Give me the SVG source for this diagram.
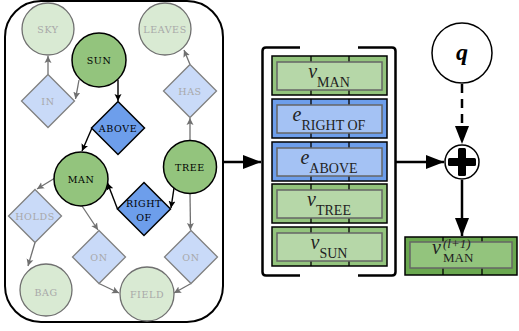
<svg xmlns="http://www.w3.org/2000/svg" width="519" height="331" viewBox="0 0 519 331">
<style>
.lbl{font-family:"DejaVu Serif","Liberation Serif",serif;font-size:9.5px;letter-spacing:0.6px;text-anchor:middle;dominant-baseline:central}
.dk{fill:#93c47d;stroke:#000;stroke-width:1.5}
.lt{fill:#d9ead3;stroke:#707070;stroke-width:1.3}
.db{fill:#6d9eeb;stroke:#000;stroke-width:1.5}
.lb{fill:#c9daf8;stroke:#808080;stroke-width:1.3}
.tdk{fill:#000}
.tlt{fill:#a8a8a8}
.eb{stroke:#000;stroke-width:1.4;fill:none;marker-end:url(#ab)}
.eg{stroke:#707070;stroke-width:1.3;fill:none;marker-end:url(#ag)}
.big{stroke:#000;stroke-width:2.5;fill:none}
.ro{stroke:#000;stroke-width:1.5}
.ri{stroke:#666;stroke-width:1.5}
.gro{fill:#93c47d}.gri{fill:#b6d7a8}
.bro{fill:#6d9eeb}.bri{fill:#a4c2f4}
.div{stroke:#000;stroke-width:1.3}
.vt{font-family:"Liberation Serif","DejaVu Serif",serif;fill:#222;text-anchor:middle}
</style>
<defs>
<marker id="ab" markerUnits="userSpaceOnUse" markerWidth="10" markerHeight="10" refX="7" refY="4" orient="auto"><path d="M0,0.5 L7,4 L0,7.5 L1.5,4 z" fill="#000"/></marker>
<marker id="ag" markerUnits="userSpaceOnUse" markerWidth="10" markerHeight="10" refX="7" refY="4" orient="auto"><path d="M0,0.5 L7,4 L0,7.5 L1.5,4 z" fill="#707070"/></marker>
<marker id="big" markerUnits="userSpaceOnUse" markerWidth="22" markerHeight="16" refX="18" refY="7" orient="auto"><path d="M0,0 L18,7 L0,14 z" fill="#000"/></marker>
</defs>

<rect id="scene-graph" x="5" y="1" width="218" height="321" rx="36" fill="#fff" stroke="#000" stroke-width="2"/>

<g id="connectors">
<line class="eg" x1="48" y1="74.5" x2="48" y2="56"/>
<line class="eg" x1="79" y1="80" x2="75.5" y2="99"/>
<line class="eb" x1="118" y1="80" x2="118" y2="101"/>
<line class="eb" x1="92" y1="128" x2="82" y2="151"/>
<line class="eg" x1="190" y1="140.5" x2="190" y2="118"/>
<line class="eg" x1="190" y1="64.5" x2="184" y2="50"/>
<line class="eb" x1="174" y1="188" x2="171" y2="208"/>
<line class="eb" x1="117.5" y1="209" x2="107.5" y2="183"/>
<line class="eg" x1="55" y1="178" x2="37" y2="189"/>
<line class="eg" x1="35" y1="242.5" x2="28" y2="266"/>
<line class="eg" x1="82" y1="206" x2="98" y2="230"/>
<line class="eg" x1="99" y1="283.5" x2="119" y2="293"/>
<line class="eg" x1="190" y1="193.5" x2="190.5" y2="230"/>
<line class="eg" x1="191" y1="283.5" x2="174" y2="293"/>
<line class="big" x1="223" y1="162" x2="261" y2="162" marker-end="url(#big)"/>
<line class="big" x1="396" y1="162" x2="444" y2="162" marker-end="url(#big)"/>
<line class="big" x1="462" y1="84" x2="462" y2="144" stroke-dasharray="9,6" marker-end="url(#big)"/>
<line class="big" x1="462" y1="180" x2="462" y2="236" marker-end="url(#big)"/>
</g>

<g id="sky"><circle class="lt" cx="48" cy="29" r="26"/><text class="lbl tlt" x="48" y="29">SKY</text></g>
<g id="leaves"><circle class="lt" cx="165" cy="29" r="26"/><text class="lbl tlt" x="165" y="29">LEAVES</text></g>
<g id="sun"><circle class="dk" cx="99" cy="60" r="27"/><text class="lbl tdk" x="99" y="60">SUN</text></g>
<g id="in"><polygon class="lb" points="48,74.5 74.5,101 48,127.5 21.5,101"/><text class="lbl tlt" x="48" y="101">IN</text></g>
<g id="has"><polygon class="lb" points="190,64.5 216.5,91 190,117.5 163.5,91"/><text class="lbl tlt" x="190" y="91">HAS</text></g>
<g id="above"><polygon class="db" points="118,101.5 144.5,128 118,154.5 91.5,128"/><text class="lbl tdk" x="118" y="128">ABOVE</text></g>
<g id="tree"><circle class="dk" cx="190" cy="167" r="26.5"/><text class="lbl tdk" x="190" y="167">TREE</text></g>
<g id="man"><circle class="dk" cx="81" cy="179" r="27"/><text class="lbl tdk" x="81" y="179">MAN</text></g>
<g id="right-of"><polygon class="db" points="144,182.5 170.5,209 144,235.5 117.5,209"/><text class="lbl tdk" x="144" y="203">RIGHT</text><text class="lbl tdk" x="144" y="217">OF</text></g>
<g id="holds"><polygon class="lb" points="35,189.5 61.5,216 35,242.5 8.5,216"/><text class="lbl tlt" x="35" y="216">HOLDS</text></g>
<g id="on-1"><polygon class="lb" points="99,230.5 125.5,257 99,283.5 72.5,257"/><text class="lbl tlt" x="99" y="257">ON</text></g>
<g id="on-2"><polygon class="lb" points="191,230.5 217.5,257 191,283.5 164.5,257"/><text class="lbl tlt" x="191" y="257">ON</text></g>
<g id="bag"><circle class="lt" cx="46" cy="290" r="26"/><text class="lbl tlt" x="46" y="292">BAG</text></g>
<g id="field"><circle class="lt" cx="147" cy="294" r="27"/><text class="lbl tlt" x="147" y="294">FIELD</text></g>

<g id="stack">
<path d="M300,47.5 L266,47.5 Q262.5,47.5 262.5,51 L262.5,272 Q262.5,275.5 266,275.5 L300,275.5" class="big"/>
<path d="M358,47.5 L392,47.5 Q395.5,47.5 395.5,51 L395.5,272 Q395.5,275.5 392,275.5 L358,275.5" class="big"/>
</g>

<g id="v-man">
<rect class="ro gro" x="272" y="56" width="115" height="39"/>
<line class="div" x1="311" y1="56" x2="311" y2="95"/><line class="div" x1="349" y1="56" x2="349" y2="95"/>
<rect class="ri gri" x="277" y="62" width="105" height="28"/>
<text class="vt" x="329" y="78"><tspan font-style="italic" font-size="20">v</tspan><tspan font-size="14" dy="9">MAN</tspan></text>
</g>
<g id="e-right-of">
<rect class="ro bro" x="272" y="99" width="115" height="39"/>
<line class="div" x1="311" y1="99" x2="311" y2="138"/><line class="div" x1="349" y1="99" x2="349" y2="138"/>
<rect class="ri bri" x="277" y="105" width="105" height="28"/>
<text class="vt" x="329" y="121"><tspan font-style="italic" font-size="20">e</tspan><tspan font-size="14" dy="9">RIGHT OF</tspan></text>
</g>
<g id="e-above">
<rect class="ro bro" x="272" y="142" width="115" height="39"/>
<line class="div" x1="311" y1="142" x2="311" y2="181"/><line class="div" x1="349" y1="142" x2="349" y2="181"/>
<rect class="ri bri" x="277" y="148" width="105" height="28"/>
<text class="vt" x="329" y="164"><tspan font-style="italic" font-size="20">e</tspan><tspan font-size="14" dy="9">ABOVE</tspan></text>
</g>
<g id="v-tree">
<rect class="ro gro" x="272" y="184" width="115" height="39"/>
<line class="div" x1="311" y1="184" x2="311" y2="223"/><line class="div" x1="349" y1="184" x2="349" y2="223"/>
<rect class="ri gri" x="277" y="190" width="105" height="28"/>
<text class="vt" x="329" y="206"><tspan font-style="italic" font-size="20">v</tspan><tspan font-size="14" dy="9">TREE</tspan></text>
</g>
<g id="v-sun">
<rect class="ro gro" x="272" y="227" width="115" height="39"/>
<line class="div" x1="311" y1="227" x2="311" y2="266"/><line class="div" x1="349" y1="227" x2="349" y2="266"/>
<rect class="ri gri" x="277" y="233" width="105" height="28"/>
<text class="vt" x="329" y="249"><tspan font-style="italic" font-size="20">v</tspan><tspan font-size="14" dy="9">SUN</tspan></text>
</g>

<g id="q"><circle cx="462" cy="53" r="30" fill="#fff" stroke="#000" stroke-width="1.5"/><text x="462" y="60" font-family="Liberation Serif, DejaVu Serif, serif" font-size="24" font-weight="bold" font-style="italic" text-anchor="middle" fill="#000">q</text></g>

<g id="plus"><circle cx="462" cy="162" r="17" fill="#fff" stroke="#000" stroke-width="1.5"/>
<rect x="448" y="158" width="28" height="8" rx="1.5" fill="#000"/><rect x="458" y="148" width="8" height="28" rx="1.5" fill="#000"/></g>

<g id="v-man-next">
<rect x="405" y="237" width="112" height="38" fill="#6aa84f" stroke="#000" stroke-width="1.5"/>
<line class="div" x1="443" y1="237" x2="443" y2="275"/><line class="div" x1="482" y1="237" x2="482" y2="275"/>
<rect x="410" y="242" width="102" height="26" fill="#93c47d" stroke="#666" stroke-width="1.5"/>
<text font-family="Liberation Serif, DejaVu Serif, serif" fill="#222" x="432" y="254" font-size="20" font-style="italic">v</text>
<text font-family="Liberation Serif, DejaVu Serif, serif" fill="#222" x="443" y="248" font-size="13" font-style="italic">(l+1)</text>
<text font-family="Liberation Serif, DejaVu Serif, serif" fill="#222" x="443" y="262" font-size="13">MAN</text>
</g>
</svg>
